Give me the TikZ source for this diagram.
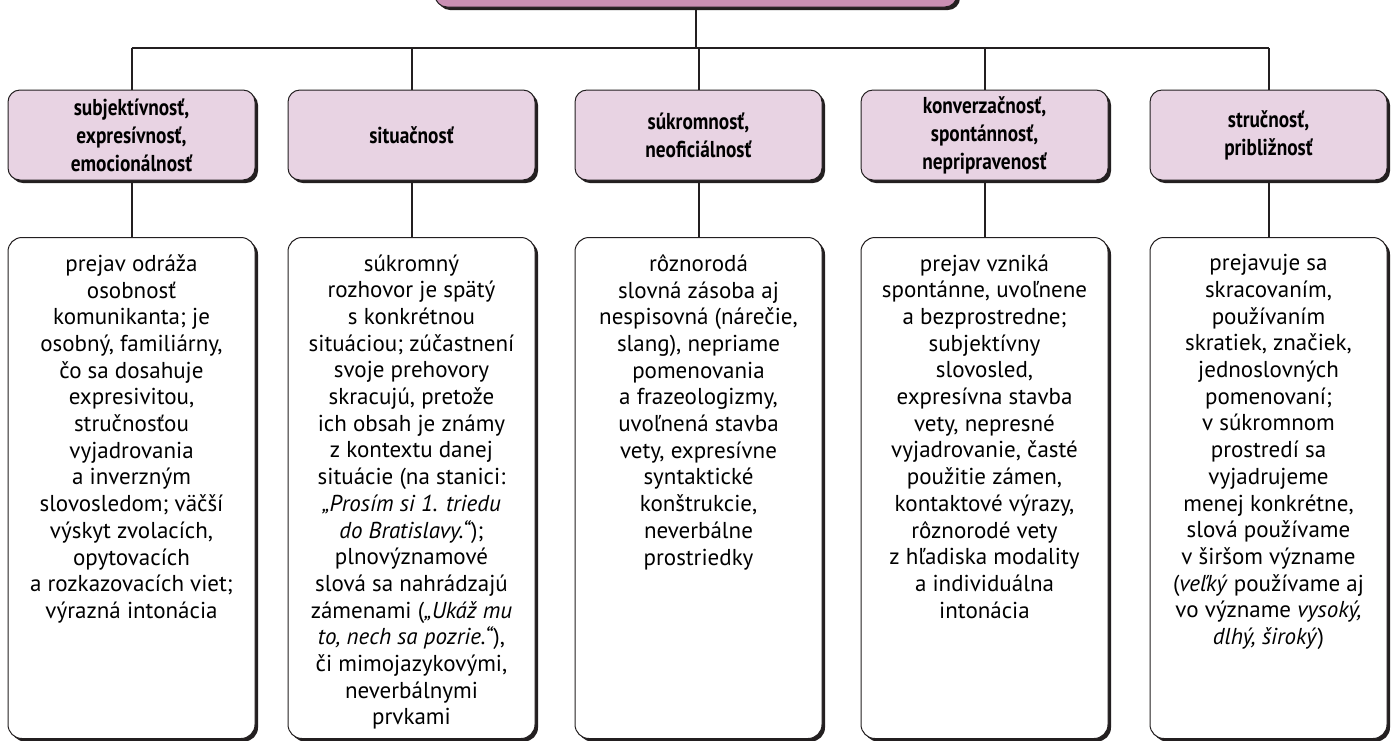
\documentclass[tikz,border=0pt]{standalone}
\usepackage{fontspec}
\setmainfont{PT Sans}
\usetikzlibrary{positioning,shadows}
\definecolor{headpink}{HTML}{E8D3E3}
\definecolor{rootpink}{HTML}{C98FB3}
\definecolor{inkline}{HTML}{231F20}
\setlength{\lineskiplimit}{-20pt}
\tikzset{
  link/.style={draw=inkline, line width=2pt},
  boxshadow/.style={drop shadow={shadow xshift=3pt, shadow yshift=-3pt, fill=inkline, opacity=1}},
  head/.style={draw=inkline, line width=1pt, fill=headpink, rounded corners=12pt,
    minimum width=247pt, minimum height=90pt, align=center, inner sep=0pt,
    font=\fontsize{23}{28}\selectfont\bfseries\addfontfeature{FakeStretch=0.84}, boxshadow},
  desc/.style={draw=inkline, line width=1pt, fill=white, rounded corners=14pt,
    inner sep=0pt, anchor=north, boxshadow},
}
% #1 width, #2 lines
\newcommand{\desctext}[2]{\parbox[t][501pt][t]{#1}{\fontsize{23}{26.7}\selectfont\centering\vspace*{17pt}#2\par}}

\begin{document}
\begin{tikzpicture}[x=1pt, y=-1pt]
  \useasboundingbox (0,0) rectangle (1391,740);
  \clip (0,0) rectangle (1391,740);

  \node[draw=inkline, line width=1pt, fill=rootpink, rounded corners=12pt,
    minimum width=522pt, minimum height=80pt, boxshadow] (root) at (696,-33) {};
  \coordinate (bus) at (0,48);

  % headings
  \node[head] (h1) at (131.5,135) {subjektívnosť,\\expresívnosť,\\emocionálnosť};
  \node[head] (h2) at (411.5,135) {situačnosť};
  \node[head] (h3) at (698.5,135) {súkromnosť,\\neoficiálnosť};
  \node[head] (h4) at (984.5,135) {konverzačnosť,\\spontánnosť,\\nepripravenosť};
  \node[head, minimum width=237pt] (h5) at (1268.5,135) {stručnosť,\\približnosť};

  % descriptions
  \node[desc] (d1) at (131.5,237) {\desctext{247pt}{prejav odráža\\osobnosť\\komunikanta; je\\osobný, familiárny,\\čo sa dosahuje\\expresivitou,\\stručnosťou\\vyjadrovania\\a inverzným\\slovosledom; väčší\\výskyt zvolacích,\\opytovacích\\a rozkazovacích viet;\\výrazná intonácia}};
  \node[desc] (d2) at (411.5,237) {\desctext{247pt}{súkromný\\rozhovor je spätý\\s konkrétnou\\situáciou; zúčastnení\\svoje prehovory\\skracujú, pretože\\ich obsah je známy\\z kontextu danej\\situácie (na stanici:\\\textit{„Prosím si 1. triedu}\\\textit{do Bratislavy.“});\\plnovýznamové\\slová sa nahrádzajú\\zámenami (\textit{„Ukáž mu}\\\textit{to, nech sa pozrie.“}),\\či mimojazykovými,\\neverbálnymi\\prvkami}};
  \node[desc] (d3) at (698.5,237) {\desctext{247pt}{rôznorodá\\slovná zásoba aj\\nespisovná (nárečie,\\slang), nepriame\\pomenovania\\a frazeologizmy,\\uvoľnená stavba\\vety, expresívne\\syntaktické\\konštrukcie,\\neverbálne\\prostriedky}};
  \node[desc] (d4) at (984.5,237) {\desctext{247pt}{prejav vzniká\\spontánne, uvoľnene\\a bezprostredne;\\subjektívny\\slovosled,\\expresívna stavba\\vety, nepresné\\vyjadrovanie, časté\\použitie zámen,\\kontaktové výrazy,\\rôznorodé vety\\z hľadiska modality\\a individuálna\\intonácia}};
  \node[desc] (d5) at (1268.5,237) {\desctext{237pt}{prejavuje sa\\skracovaním,\\používaním\\skratiek, značiek,\\jednoslovných\\pomenovaní;\\v súkromnom\\prostredí sa\\vyjadrujeme\\menej konkrétne,\\slová používame\\v širšom význame\\(\textit{veľký} používame aj\\vo význame \textit{vysoký,}\\\textit{dlhý, široký})}};

  % connectors
  \draw[link] (root.south) -- (root.south |- bus);
  \draw[link] (h1.north |- bus) -- (h5.north |- bus);
  \foreach \i in {1,...,5} {
    \draw[link] (h\i.north |- bus) -- (h\i.north);
    \draw[link] (h\i.south) -- (d\i.north);
  }
\end{tikzpicture}
\end{document}
